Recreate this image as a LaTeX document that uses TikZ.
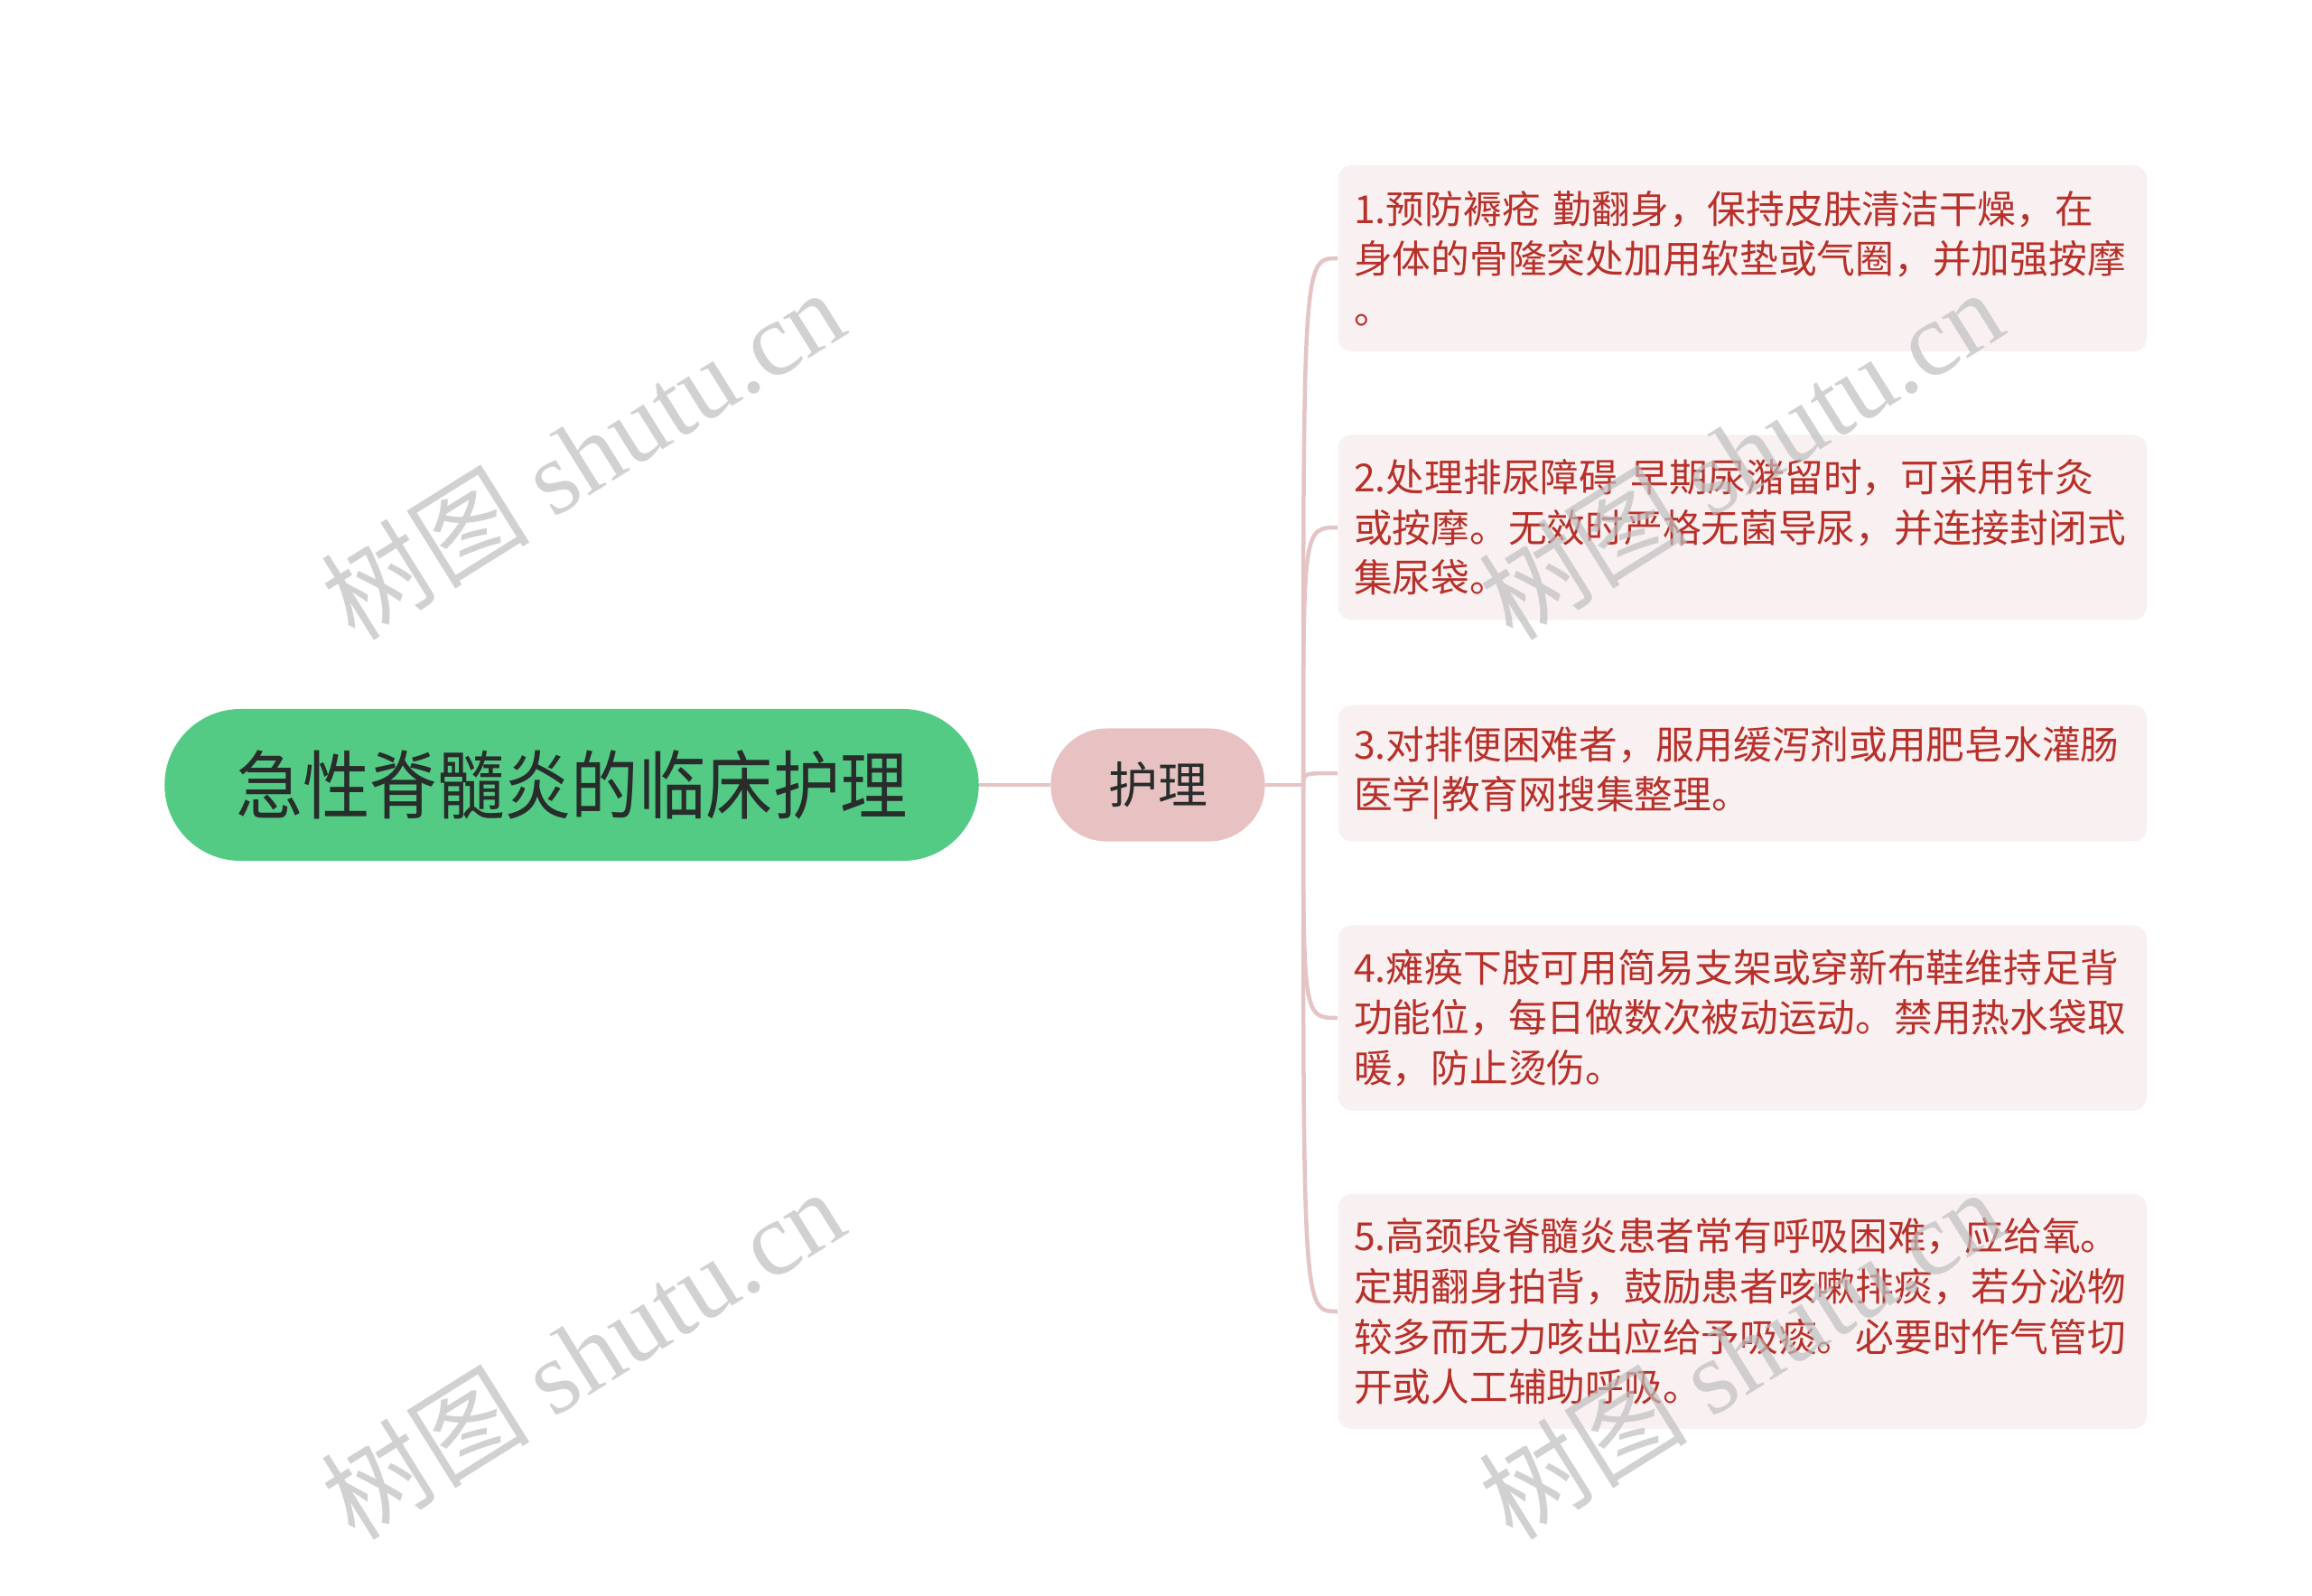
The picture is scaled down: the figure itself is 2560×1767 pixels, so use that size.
\documentclass[tikz,border=0pt]{standalone}
\usepackage{fontspec}
\setmainfont{Noto Sans CJK SC}
\newfontfamily\rootfont[FakeStretch=0.9]{Noto Sans CJK SC}
\newfontfamily\wmlat{Liberation Serif}
\definecolor{rootgreen}{RGB}{83,203,133}
\definecolor{subpink}{RGB}{232,194,194}
\definecolor{linepink}{RGB}{228,196,196}
\definecolor{leaffill}{RGB}{249,241,241}
\definecolor{leaftext}{RGB}{183,48,42}
\definecolor{roottext}{RGB}{40,44,42}
\definecolor{wmgray}{RGB}{190,190,190}
\tikzset{
  rootbox/.style={fill=rootgreen, draw=none, rounded corners=0.84cm, minimum width=9.01cm, minimum height=1.68cm, inner sep=0pt, text=roottext, font=\rootfont\fontsize{23.5pt}{28pt}\selectfont},
  subbox/.style={fill=subpink, draw=none, rounded corners=0.62cm, minimum width=2.37cm, minimum height=1.25cm, inner sep=0pt, text=roottext, font=\fontsize{15.6pt}{19pt}\selectfont},
  leafbox/.style={fill=leaffill, draw=none, rounded corners=0.15cm, anchor=west, text width=8.6cm, inner xsep=0.175cm, inner ysep=0pt, align=left, text=leaftext, font=\fontsize{12.15pt}{15.8pt}\selectfont},
  conn/.style={draw=linepink, line width=0.045cm},
  wm/.style={text=wmgray, text opacity=0.7, rotate=32, font=\fontsize{33pt}{38pt}\selectfont}
}
\begin{document}
\begin{tikzpicture}[x=0.01cm, y=-0.01cm]
\useasboundingbox (0,0) rectangle (2560,1767);
\node[rootbox] (root) at (633,869) {急性脊髓炎的临床护理};
\node[subbox] (hl) at (1282,869) {护理};
\coordinate (hub) at (1443,869);
\node[leafbox, minimum height=2.06cm] (b1) at (1481,286) {1.预防褥疮 勤翻身，保持皮肤清洁干燥，在\\身体的骨隆突处加用软垫或气圈，并加强按摩\\。};
\node[leafbox, minimum height=2.05cm] (b2) at (1481,584) {2.处理排尿障碍 早期尿潴留时，可采用针灸\\或按摩。无效时严格无菌导尿，并连接封闭式\\集尿袋。};
\node[leafbox, minimum height=1.51cm] (b3) at (1481,856) {3.对排便困难者，服用缓泻剂或用肥皂水灌肠\\医学|教育网搜集整理。};
\node[leafbox, minimum height=2.05cm] (b4) at (1481,1127) {4.瘫痪下肢可用简易支架或穿新布鞋维持足背\\功能位，每日做数次被动运动。禁用热水袋取\\暖，防止烫伤。};
\node[leafbox, minimum height=2.60cm] (b5) at (1481,1452) {5.高颈段脊髓炎患者常有呼吸困难，应给氧。\\定期翻身拍背，鼓励患者咳嗽排痰，若分泌物\\较多而无力咳出应给予吸痰。必要时作气管切\\开或人工辅助呼吸。};
\draw[conn] (root.east) -- (hl.west);
\draw[conn] (hl.east) -- (hub);
\foreach \b in {b1,b2,b3,b4,b5}{
  \draw[conn] (hub) .. controls (hub |- \b.west) and (hub |- \b.west) .. (\b.west);
}
\node[wm] (w1) at (645,502) {树图 {\wmlat shutu.cn}};
\node[wm] (w2) at (645,1498) {树图 {\wmlat shutu.cn}};
\node[wm] (w3) at (1927,502) {树图 {\wmlat shutu.cn}};
\node[wm] (w4) at (1927,1498) {树图 {\wmlat shutu.cn}};
\end{tikzpicture}
\end{document}
